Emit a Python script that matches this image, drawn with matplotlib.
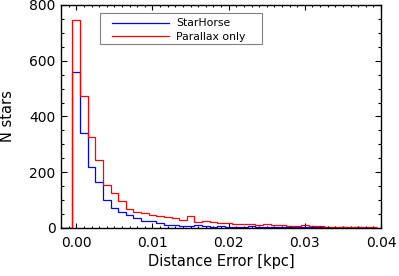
import numpy as np
import matplotlib
matplotlib.use("Agg")
import matplotlib.pyplot as plt
from matplotlib.ticker import MultipleLocator
from matplotlib.patches import Rectangle

# histogram counts, one per 0.001 kpc bin (bins centred on 0.000, 0.001, ...)
bin_width = 0.001
bin_centres_start = 0.0
starhorse = [560, 340, 218, 165, 100, 70, 58, 46, 34, 25,
             25, 19, 11, 11, 8, 7, 10, 6, 5, 7,
             4, 3, 5, 6, 3, 4, 2, 3, 2, 2,
             3, 4, 2, 2, 1, 2, 1, 2, 1, 1]
parallax = [745, 475, 328, 245, 153, 124, 96, 69, 57, 52,
            48, 43, 38, 36, 28, 42, 22, 25, 20, 17,
            18, 15, 14, 15, 11, 14, 12, 9, 8, 8,
            9, 6, 6, 5, 5, 4, 4, 3, 4, 2]
labels = ["StarHorse", "Parallax only"]
colors = ["#0000ff", "#ff0000"]
xtick_vals = [0, 0.01, 0.02, 0.03, 0.04]
xtick_labels = ["0.00", "0.01", "0.02", "0.03", "0.04"]

plt.rcParams['font.family'] = ['DejaVu Sans']

fig = plt.figure(figsize=(3.99, 2.76), dpi=100)
ax = fig.add_axes([0.153, 0.174, 0.802, 0.808])

for counts, lab, col in zip([starhorse, parallax], labels, colors):
    n = len(counts)
    edges = bin_centres_start - bin_width / 2 + bin_width * np.arange(n + 1)
    # zero level to the left of the first bin, like IDL psym=10
    edges = np.concatenate([[-0.002], edges])
    vals = np.concatenate([[0], counts])
    ax.stairs(vals, edges, color=col, lw=0.9, label=lab, baseline=None)

ax.set_xlim(-0.002, 0.04)
ax.set_ylim(0, 800)
ax.xaxis.set_minor_locator(MultipleLocator(0.001))
ax.yaxis.set_major_locator(MultipleLocator(200))
ax.yaxis.set_minor_locator(MultipleLocator(50))
ax.set_xticks(xtick_vals)
ax.set_xticklabels(xtick_labels)

ax.tick_params(axis='x', which='major', direction='in', length=3.3, width=0.8,
               top=True, labelsize=10, pad=6)
ax.tick_params(axis='x', which='minor', direction='in', length=1.6, width=0.8, top=True)
ax.tick_params(axis='y', which='major', direction='in', length=4.6, width=0.8,
               right=True, labelsize=10, pad=4)
ax.tick_params(axis='y', which='minor', direction='in', length=2.3, width=0.8, right=True)
for s in ax.spines.values():
    s.set_linewidth(1.0)

ax.set_xlabel("Distance Error [kpc]", fontsize=10.5, labelpad=3)
ax.set_ylabel("N stars", fontsize=10.5, labelpad=10)

# legend without its own frame; grey box drawn separately (IDL style padding)
leg = ax.legend(loc='upper left', bbox_to_anchor=(0.159, 0.94), fontsize=7.8,
                frameon=False, handlelength=5.3, handletextpad=0.6,
                borderpad=0, labelspacing=0.3, borderaxespad=0)
ax.add_patch(Rectangle((0.122, 0.825), 0.506, 0.139, transform=ax.transAxes,
                       fill=False, edgecolor='#808080', lw=0.8, zorder=5))

fig.savefig("out.png", dpi=100)
